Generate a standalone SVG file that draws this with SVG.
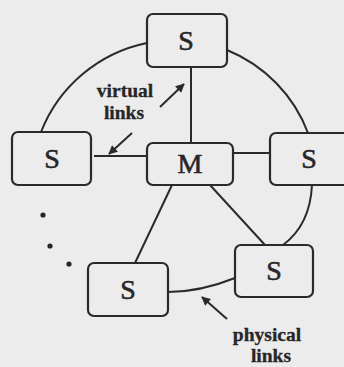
<svg xmlns="http://www.w3.org/2000/svg" width="344" height="367" viewBox="0 0 344 367">
  <style>
    .box { fill: none; stroke: #2a2a2a; stroke-width: 2.2; }
    .lbl { font-family: "Liberation Serif", "Times New Roman", serif; font-size: 28px; fill: #262626; stroke: #262626; stroke-width: 0.6; text-anchor: middle; }
    .note { font-family: "Liberation Serif", "Times New Roman", serif; font-size: 19.5px; font-weight: bold; fill: #262626; stroke: #262626; stroke-width: 0.3; text-anchor: middle; }
    .link { fill: none; stroke: #2a2a2a; stroke-width: 2; }
    .ptr { fill: none; stroke: #2a2a2a; stroke-width: 2; marker-end: url(#head); }
    .dot { fill: #262626; }
  </style>
  <defs>
    <marker id="head" viewBox="0 0 10 10" refX="9" refY="5" markerWidth="5" markerHeight="4.5" orient="auto" markerUnits="strokeWidth">
      <path d="M0,0 L10,5 L0,10 z" fill="#2a2a2a"/>
    </marker>
  </defs>

  <rect width="344" height="367" fill="#ececec"/>

  <!-- links: ring of physical links and star of virtual links -->
  <g id="connectors">
    <path class="link" d="M147,43 A145,145 0 0 0 41,132"/>
    <path class="link" d="M227,50 A145,145 0 0 1 308,133"/>
    <path class="link" d="M312,185 Q310,225 283,245"/>
    <path class="link" d="M235,278 Q200,292 168,292"/>
    <line class="link" x1="191" y1="67" x2="191" y2="143"/>
    <line class="link" x1="94" y1="156" x2="147" y2="156"/>
    <line class="link" x1="233" y1="153" x2="270" y2="153"/>
    <line class="link" x1="172" y1="185" x2="135" y2="263"/>
    <line class="link" x1="210" y1="185" x2="265" y2="245"/>
  </g>

  <!-- slave nodes and master node -->
  <g id="s-top">
    <rect class="box" x="147" y="14" width="80" height="53" rx="6"/>
    <text class="lbl" x="186" y="50">S</text>
  </g>
  <g id="s-left">
    <rect class="box" x="12" y="132" width="79" height="53" rx="6"/>
    <text class="lbl" x="52" y="168">S</text>
  </g>
  <g id="m-center">
    <rect class="box" x="147" y="143" width="86" height="42" rx="6"/>
    <text class="lbl" x="190" y="173">M</text>
  </g>
  <g id="s-right">
    <rect class="box" x="270" y="133" width="80" height="52" rx="6"/>
    <text class="lbl" x="309" y="168">S</text>
  </g>
  <g id="s-bottom-right">
    <rect class="box" x="235" y="245" width="78" height="52" rx="6"/>
    <text class="lbl" x="274" y="280">S</text>
  </g>
  <g id="s-bottom-left">
    <rect class="box" x="88" y="263" width="80" height="53" rx="6"/>
    <text class="lbl" x="128" y="299">S</text>
  </g>

  <!-- ellipsis for further nodes -->
  <g id="ellipsis">
    <circle class="dot" cx="43" cy="215" r="2.6"/>
    <circle class="dot" cx="50" cy="246" r="2.6"/>
    <circle class="dot" cx="69" cy="264" r="2.6"/>
  </g>

  <!-- annotations -->
  <g id="virtual-note">
    <text class="note" x="125" y="97">virtual</text>
    <text class="note" x="124" y="119">links</text>
    <line class="ptr" x1="160" y1="107" x2="184" y2="84"/>
    <line class="ptr" x1="132" y1="133" x2="109" y2="154"/>
  </g>
  <g id="physical-note">
    <text class="note" x="267" y="341">physical</text>
    <text class="note" x="271" y="362">links</text>
    <line class="ptr" x1="227" y1="319" x2="202" y2="297"/>
  </g>
</svg>
